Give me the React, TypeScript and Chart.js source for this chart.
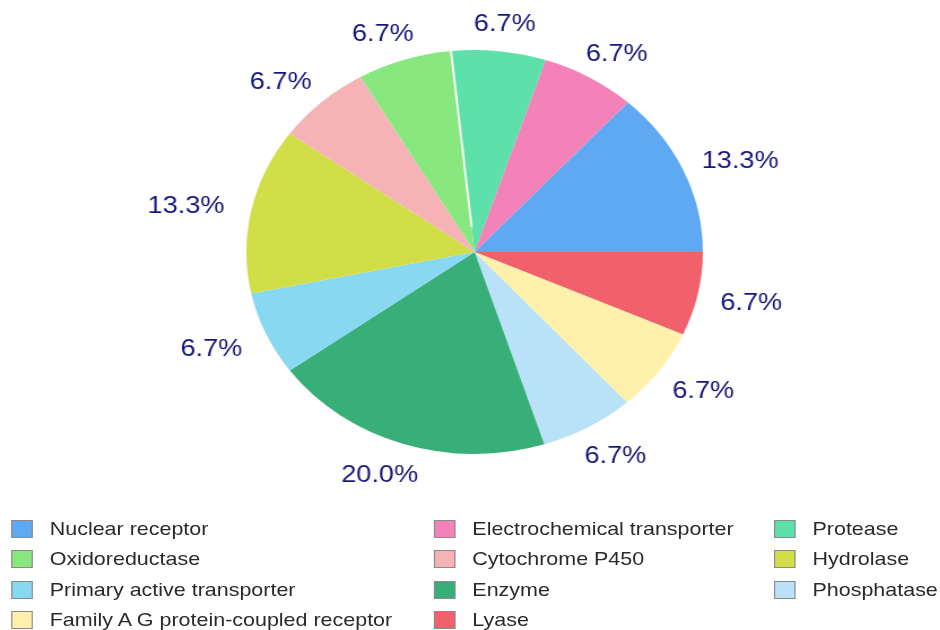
import React, { useEffect, useRef } from "react";
import { Chart, registerables } from "chart.js";

Chart.register(...registerables);

// Categories in legend order (counter-clockwise from 3 o'clock in the pie)
const categories: string[] = [
  "Nuclear receptor",
  "Electrochemical transporter",
  "Protease",
  "Oxidoreductase",
  "Cytochrome P450",
  "Hydrolase",
  "Primary active transporter",
  "Enzyme",
  "Phosphatase",
  "Family A G protein-coupled receptor",
  "Lyase",
];

const percentages: number[] = [13.3, 6.7, 6.7, 6.7, 6.7, 13.3, 6.7, 20.0, 6.7, 6.7, 6.7];

const sliceColors: string[] = [
  "#5fa9f2",
  "#f282b8",
  "#5de0a9",
  "#88e87f",
  "#f5b3b5",
  "#d1de48",
  "#89d8f1",
  "#38af79",
  "#b9e1f8",
  "#fff1ab",
  "#f0616b",
];

const LABEL_COLOR = "#16167a";
const STRETCH_X = 1.13;
const FONT = 'Arial, "Liberation Sans", sans-serif';

const outerLabels = {
  id: "outerLabels",
  afterDatasetsDraw(chart: any) {
    const ctx = chart.ctx as CanvasRenderingContext2D;
    const meta = chart.getDatasetMeta(0);
    const values = chart.data.datasets[0].data as number[];
    const labels = chart.data.labels as string[];
    ctx.save();
    // thin white separator on the Protease start edge
    const pIdx = labels.indexOf("Protease");
    if (pIdx >= 0) {
      const arc = meta.data[pIdx];
      const p = arc.getProps(["x", "y", "startAngle", "outerRadius"], true);
      ctx.strokeStyle = "#ffffff";
      ctx.lineWidth = 1.8;
      ctx.beginPath();
      ctx.moveTo(p.x + Math.cos(p.startAngle) * 25, p.y + Math.sin(p.startAngle) * 25);
      ctx.lineTo(p.x + Math.cos(p.startAngle) * (p.outerRadius + 1), p.y + Math.sin(p.startAngle) * (p.outerRadius + 1));
      ctx.stroke();
    }
    ctx.font = "24px " + FONT;
    ctx.fillStyle = LABEL_COLOR;
    ctx.textAlign = "center";
    ctx.textBaseline = "middle";
    meta.data.forEach((arc: any, i: number) => {
      const p = arc.getProps(["x", "y", "startAngle", "endAngle", "outerRadius"], true);
      const mid = (p.startAngle + p.endAngle) / 2;
      const text = Number(values[i]).toFixed(1) + "%";
      const w = ctx.measureText(text).width;
      const h = 18;
      const c = Math.cos(mid);
      const s = Math.sin(mid);
      const r = p.outerRadius + 21;
      const lx = p.x + (r + w / 2) * c + (c < 0 ? -4 : 0);
      const ly = p.y + (r + h / 2) * s + 3;
      ctx.fillText(text, lx, ly);
    });
    ctx.restore();
  },
};

const legendCols = [10, 384, 685];
const legendTextOffset = 34;
const legendRowTop = 529;
const legendRowStep = 30.4;

export default function App() {
  const ref = useRef<HTMLCanvasElement | null>(null);

  useEffect(() => {
    if (!ref.current) return;
    const chart = new Chart(ref.current, {
      type: "pie",
      data: {
        labels: [...categories].reverse(),
        datasets: [
          {
            data: [...percentages].reverse(),
            backgroundColor: [...sliceColors].reverse(),
            borderWidth: 0,
          },
        ],
      },
      options: {
        responsive: false,
        animation: false,
        rotation: 90,
        layout: { padding: { left: 218, right: 210, top: 50, bottom: 176 } },
        plugins: {
          legend: { display: false },
          tooltip: { enabled: false },
        },
      },
      plugins: [outerLabels],
    });
    return () => chart.destroy();
  }, []);

  return (
    <div
      style={{
        position: "absolute",
        left: 0,
        top: 0,
        width: 832,
        height: 630,
        transform: `scaleX(${STRETCH_X})`,
        transformOrigin: "0 0",
        background: "#ffffff",
      }}
    >
      <canvas ref={ref} width={832} height={630} style={{ display: "block" }} />
      {categories.map((name, i) => {
        const col = i % 3;
        const row = Math.floor(i / 3);
        const cy = legendRowTop + row * legendRowStep;
        return (
          <div
            key={name}
            style={{
              position: "absolute",
              left: legendCols[col],
              top: cy - 11,
              height: 22,
              display: "flex",
              alignItems: "center",
              whiteSpace: "nowrap",
              fontFamily: FONT,
              fontSize: 19,
              color: "#2a2a2a",
            }}
          >
            <span
              style={{
                display: "inline-block",
                width: 17,
                height: 16,
                background: sliceColors[i],
                border: "1px solid #8a8a8a",
                marginRight: legendTextOffset - 19,
              }}
            />
            <span>{name}</span>
          </div>
        );
      })}
    </div>
  );
}
